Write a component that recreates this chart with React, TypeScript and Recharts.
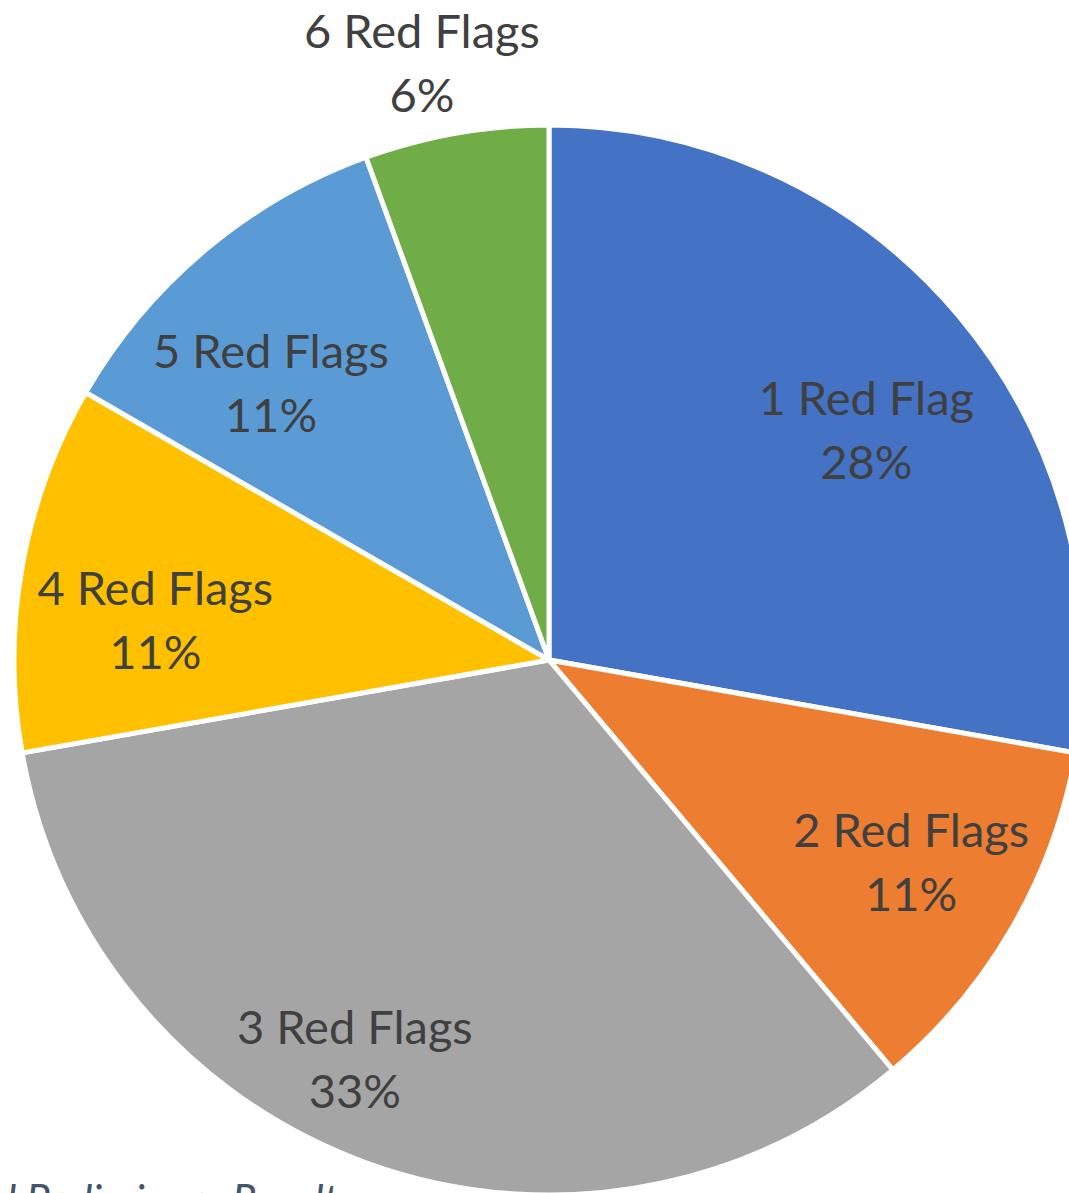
import React from 'react';
import { PieChart, Pie, Cell } from 'recharts';

const categories = ['1 Red Flag', '2 Red Flags', '3 Red Flags', '4 Red Flags', '5 Red Flags', '6 Red Flags'];
const counts = [5, 2, 6, 2, 2, 1];
const colors = ['#4472C4', '#ED7D31', '#A5A5A5', '#FFC000', '#5B9BD5', '#70AD47'];

const rows = categories.map((name, i) => ({ name, value: counts[i] }));

const RAD = Math.PI / 180;

// Excel's "best fit" placement does not sit exactly on the mid angle,
// so nudge each label a bit (degrees, fraction of radius)
const labelAngleNudge = [-4, 1, -6, 4, 5, 2];
const labelRadiusFactor = [0.733, 0.774, 0.828, 0.74, 0.735, 1.142];

const renderLabel = (props: any) => {
  const { cx, cy, midAngle, outerRadius, percent, name, index } = props;
  const a = (midAngle + labelAngleNudge[index]) * RAD;
  const r = outerRadius * labelRadiusFactor[index];
  const x = cx + r * Math.cos(-a);
  const y = cy + r * Math.sin(-a);
  return (
    <text
      x={x}
      y={y}
      textAnchor="middle"
      fill="#404040"
      fontFamily="Lato, 'Open Sans', sans-serif"
      fontSize={47}
    >
      <tspan x={x} y={y - 32} dominantBaseline="central">{name}</tspan>
      <tspan x={x} y={y + 32} dominantBaseline="central">{Math.round(percent * 100)}%</tspan>
    </text>
  );
};

export default function App() {
  return (
    <div style={{ position: 'fixed', left: 0, top: 0, width: 1069, height: 1193, overflow: 'hidden', background: '#fff' }}>
      <PieChart width={1069} height={1193} margin={{ top: 0, right: 0, bottom: 0, left: 0 }}>
        <Pie
          data={rows}
          dataKey="value"
          nameKey="name"
          cx={549}
          cy={660}
          outerRadius={535}
          startAngle={90}
          endAngle={-270}
          stroke="#fff"
          strokeWidth={5}
          label={renderLabel}
          labelLine={false}
          isAnimationActive={false}
        >
          {rows.map((r, i) => (
            <Cell key={r.name} fill={colors[i]} />
          ))}
        </Pie>
      </PieChart>
      <div
        style={{
          position: 'absolute',
          left: -6,
          top: 1178,
          fontFamily: "Lato, 'Open Sans', sans-serif",
          fontStyle: 'italic',
          fontSize: 42,
          color: '#44546A',
          whiteSpace: 'nowrap',
          lineHeight: 1,
        }}
      >
        d Preliminary Results
      </div>
    </div>
  );
}
